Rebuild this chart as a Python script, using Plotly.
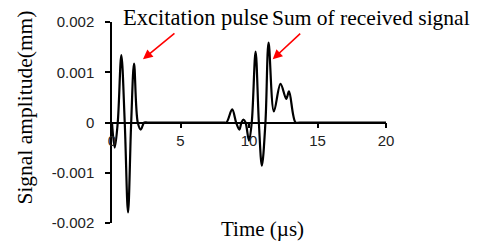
import plotly.graph_objects as go

# time (µs) and amplitude (mm)
time_us = [0.0, 0.2, 0.42, 0.68, 0.93, 1.17, 1.40, 1.61, 1.88, 2.1, 2.35, 2.6,
           8.1, 8.35, 8.77, 9.06, 9.3, 9.45, 9.6, 9.75, 10.0, 10.2, 10.48, 10.72,
           10.94, 11.2, 11.43, 11.82, 12.3, 12.72, 12.92, 13.4, 13.7, 20.0]
amplitude_mm = [0.0, -0.00050, 0.0, 0.00134, 0.0, -0.00179, 0.0, 0.00117, 0.0, -0.00014, 0.0, 0.0,
                0.0, 0.0, 0.00026, 0.0, -0.00014, 0.0, 0.00006, 0.0, -0.00036, 0.0, 0.00141, 0.0,
                -0.00086, 0.0, 0.00159, 0.00022, 0.00077, 0.00047, 0.00062, 0.0, 0.0, 0.0]

x_ticks = [0, 5, 10, 15, 20]
y_ticks = [0.002, 0.001, 0, -0.001, -0.002]
y_tick_labels = ["0.002", "0.001", "0", "-0.001", "-0.002"]

fig = go.Figure()
fig.add_trace(go.Scatter(x=time_us, y=amplitude_mm, mode="lines",
                         line=dict(color="black", width=2.2, shape="spline", smoothing=1.0),
                         showlegend=False, hoverinfo="skip"))

tick_font = dict(family="Liberation Sans", size=15, color="#222")
title_font = dict(family="Liberation Serif", size=21, color="black")

fig.update_layout(
    width=477, height=243,
    margin=dict(l=112, r=91, t=22, b=20),
    paper_bgcolor="white", plot_bgcolor="white",
    xaxis=dict(range=[0, 20], tickvals=x_ticks, showgrid=False, zeroline=False,
               showline=True, linecolor="black", linewidth=1.5, automargin=False,
               ticks="outside", ticklen=5, tickcolor="black", tickwidth=1.5,
               anchor="free", position=0.5, tickfont=tick_font),
    yaxis=dict(range=[-0.002, 0.002], tickvals=y_ticks, ticktext=y_tick_labels,
               showgrid=False, zeroline=False, showline=True, linecolor="black",
               linewidth=1.5, ticks="outside", ticklen=5, tickcolor="black", tickwidth=1.5,
               automargin=False, ticklabelstandoff=8, tickfont=tick_font),
)

fig.add_annotation(text="Excitation pulse", xref="paper", yref="paper", x=0.033, y=1.02,
                   xanchor="left", yanchor="middle", showarrow=False,
                   font=dict(family="Liberation Serif", size=22.5, color="black"))
fig.add_annotation(text="Sum of received signal", xref="paper", yref="paper", x=0.575, y=1.02,
                   xanchor="left", yanchor="middle", showarrow=False,
                   font=dict(family="Liberation Serif", size=21.5, color="black"))
fig.add_annotation(text="Signal amplitude(mm)", xref="paper", yref="paper", x=-0.317, y=0.575,
                   textangle=-90, xanchor="center", yanchor="middle", showarrow=False,
                   font=dict(family="Liberation Serif", size=21.5, color="black"))
fig.add_annotation(text="Time (µs)", xref="paper", yref="paper", x=0.55, y=-0.03,
                   xanchor="center", yanchor="middle", showarrow=False, font=title_font)

for tip_x, tip_y, ax in [(2.26, 0.00126, 33), (11.73, 0.00126, 29)]:
    fig.add_annotation(x=tip_x, y=tip_y, xref="x", yref="y", ax=ax, ay=-27, text="",
                       showarrow=True, arrowhead=2, arrowsize=1.2, arrowwidth=1.6,
                       arrowcolor="red")

fig.write_html("out.html", config={"displayModeBar": False},
               post_script="document.body.style.margin='0';")
